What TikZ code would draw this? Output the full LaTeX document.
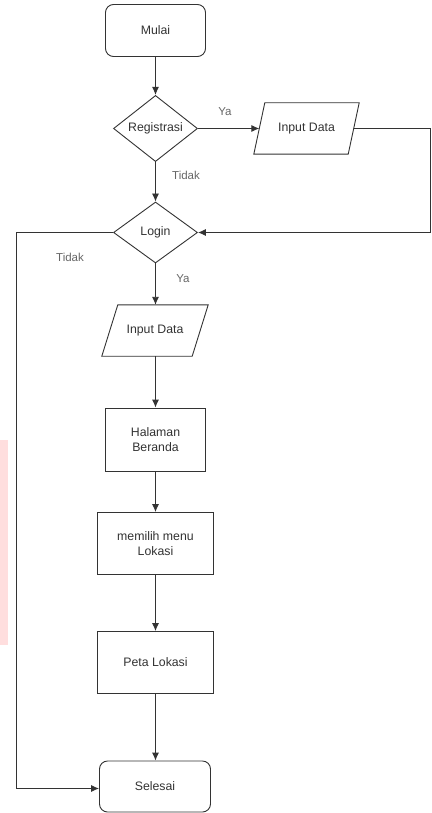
\documentclass[tikz,border=0pt]{standalone}
\usepackage{fontspec}
\setmainfont{Liberation Sans}
\usetikzlibrary{shapes.geometric,arrows.meta}
\begin{document}
\begin{tikzpicture}[x=1pt,y=-1pt,
  every node/.style={font=\fontsize{12.3}{14.5}\selectfont, text=black!80, align=center},
  lineclr/.style={draw=black!80, line width=0.9pt},
  term/.style={lineclr, rounded corners=8pt, inner sep=0pt},
  proc/.style={lineclr, inner sep=0pt},
  dec/.style={lineclr, diamond, inner sep=0pt},
  io/.style={draw=none, inner sep=0pt},
  lbl/.style={text=black!60, font=\fontsize{11.5}{13}\selectfont},
  flow/.style={lineclr, -{Latex[length=8pt,width=7pt]}},
  plain/.style={lineclr}
]
\useasboundingbox (0,0) rectangle (431,813);
\fill[white] (0,0) rectangle (431,813);
\fill[red!13] (0,440) rectangle (8,645);

% nodes
\node[term, minimum width=100pt, minimum height=52pt] (mulai) at (155.5,30.5) {Mulai};
\node[dec, minimum width=84pt, minimum height=61pt] (reg) at (155.5,128.5) {Registrasi};
\node[io, minimum width=94pt, minimum height=51pt] (in1) at (306.5,128.5) {Input Data};
\draw[lineclr] ([xshift=5.5pt]in1.north west) -- ([xshift=5.5pt]in1.north east)
  -- ([xshift=-5.5pt]in1.south east) -- ([xshift=-5.5pt]in1.south west) -- cycle;
\node[dec, minimum width=84pt, minimum height=61pt] (login) at (155.5,232.5) {Login};
\node[io, minimum width=90pt, minimum height=51pt] (in2) at (155,330.5) {Input Data};
\draw[lineclr] ([xshift=8pt]in2.north west) -- ([xshift=8pt]in2.north east)
  -- ([xshift=-8pt]in2.south east) -- ([xshift=-8pt]in2.south west) -- cycle;
\node[proc, minimum width=100pt, minimum height=63pt] (home) at (155.5,439.5) {Halaman\\Beranda};
\node[proc, minimum width=116pt, minimum height=62pt] (menu) at (155.5,543.5) {memilih menu\\Lokasi};
\node[proc, minimum width=116pt, minimum height=62pt] (peta) at (155.5,662.5) {Peta Lokasi};
\node[term, minimum width=111pt, minimum height=51pt] (selesai) at (155,786.5) {Selesai};

\coordinate (c1) at (430.5,128.5);
\coordinate (c2) at (430.5,232.5);
\coordinate (c3) at (16.5,232.5);
\coordinate (c4) at (16.5,788.5);

% connectors
\draw[flow] (mulai) -- (reg);
\draw[flow] (reg) -- (in1.west);
\draw[flow] (reg) -- (login);
\draw[flow] (in1.east) -- (c1) -- (c2) -- (login.east);
\draw[flow] (login) -- (login |- in2.north);
\draw[flow] (login.west) -- (c3) -- (c4) -- (selesai.west |- c4);
\draw[flow] (in2.south -| home) -- (home);
\draw[flow] (home) -- (menu);
\draw[flow] (menu) -- (peta);
\draw[flow] (peta) -- (peta |- selesai.north);

% labels
\node[lbl] (ya1) at (225,112) {Ya};
\node[lbl] (tidak1) at (186,175) {Tidak};
\node[lbl] (tidak2) at (70,257) {Tidak};
\node[lbl] (ya2) at (183,279) {Ya};
\end{tikzpicture}
\end{document}
